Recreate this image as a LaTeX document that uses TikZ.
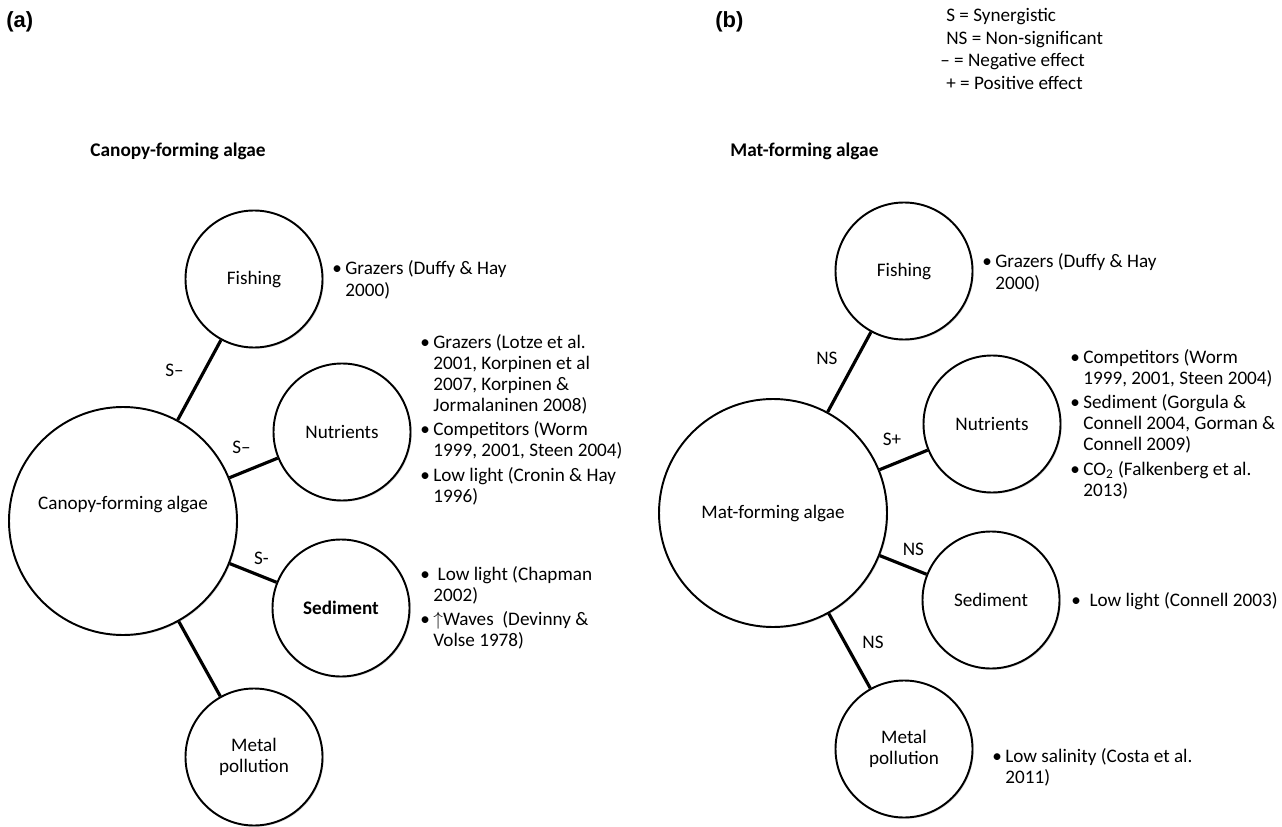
\documentclass[tikz,border=0pt]{standalone}
\usepackage{fontspec}
\setmainfont{Carlito}
\newfontfamily\panelfont{Liberation Sans}
\usetikzlibrary{shadows}
\tikzset{every picture/.style={line join=round}}

\begin{document}
\begin{tikzpicture}[
    x=0.2mm, y=-0.2mm,
    every node/.style={font=\fontsize{10.9}{12}\selectfont},
    stressor/.style={circle, draw, line width=1.1pt, fill=white,
        minimum size=27.4mm, inner sep=0pt, align=center,
        drop shadow={shadow xshift=0.7pt, shadow yshift=-0.7pt, opacity=0.3}},
    algae/.style={stressor, minimum size=45.6mm},
    link/.style={line width=1.8pt},
    effect/.style={inner sep=0pt},
    notes/.style={anchor=base west, inner sep=0pt},
    title/.style={anchor=base west, inner sep=0pt,
        font=\fontsize{11}{13}\selectfont\bfseries},
    panel/.style={anchor=base west, inner sep=0pt,
        font=\fontsize{12.5}{14}\selectfont\panelfont\bfseries}
]
    \useasboundingbox (0,0) rectangle (1282,827);

    \begin{scope}
      % panel (a)
      \node[panel] (pa) at (6,28) {(a)};
      \node[title] (ta) at (90,157) {Canopy-forming algae};

      % circles
      \node[algae, text height=7pt, text depth=19.8pt] (canopy) at (123,521) {Canopy-forming algae};
      \node[stressor] (fishA) at (254,279) {Fishing};
      \node[stressor] (nutA) at (342,432) {Nutrients};
      \node[stressor] (sedA) at (341,608) {\bfseries Sediment};
      \node[stressor] (metA) at (254,757) {Metal\\pollution};

      % interactions
      \draw[link] (canopy) -- (fishA)
          node[effect, pos=.62, left=11pt] {S–};
      \draw[link] (canopy) -- (nutA)
          node[effect, pos=.25, above=10pt] {S–};
      \draw[link] (canopy) -- (sedA)
          node[effect, pos=.68, above=6pt] {S-};
      \draw[link] (canopy) -- (metA);

      % references
      \node[notes] (fishAref) at (332,275) {\begin{tabular}[t]{@{}l@{\hspace{2pt}}l@{}}
          \textbullet & Grazers (Duffy \& Hay\\
           & 2000)
        \end{tabular}};
      \node[notes] (nutAref) at (420,348) {\begin{tabular}[t]{@{}l@{\hspace{2pt}}l@{}}
          \textbullet & Grazers (Lotze et al.\\
           & 2001, Korpinen et al\\
           & 2007, Korpinen \&\\
           & Jormalaninen 2008)\\[2pt]
          \textbullet & Competitors (Worm\\
           & 1999, 2001, Steen 2004)\\[2pt]
          \textbullet & Low light (Cronin \& Hay\\
           & 1996)
        \end{tabular}};
      \node[notes] (sedAref) at (420,580) {\begin{tabular}[t]{@{}l@{\hspace{2pt}}l@{}}
          \textbullet & \ Low light (Chapman\\
           & 2002)\\[2pt]
          \textbullet & $\uparrow$Waves\ \ (Devinny \&\\
           & Volse 1978)
        \end{tabular}};
    \end{scope}

    \begin{scope}
      % panel (b)
      \node[panel] (pb) at (715,28) {(b)};
      \node[title] (tb) at (730,157) {Mat-forming algae};

      % legend
      \foreach \x/\y/\t [count=\i] in {946/22/{S = Synergistic},
          946/44.5/{NS = Non-significant}, 940/67/{– = Negative effect},
          946/89.5/{+ = Positive effect}}
        \node[notes] (leg\i) at (\x,\y) {\t};

      % circles
      \node[algae] (mat) at (773,513) {Mat-forming algae};
      \node[stressor] (fishB) at (904,271) {Fishing};
      \node[stressor] (nutB) at (992,424) {Nutrients};
      \node[stressor] (sedB) at (991,600) {Sediment};
      \node[stressor] (metB) at (904,749) {Metal\\pollution};

      % interactions
      \draw[link] (mat) -- (fishB)
          node[effect, pos=.67, left=10pt] {NS};
      \draw[link] (mat) -- (nutB)
          node[effect, pos=.26, above=10pt] {S+};
      \draw[link] (mat) -- (sedB)
          node[effect, pos=.72, above=7pt] {NS};
      \draw[link] (mat) -- (metB)
          node[effect, pos=.39, right=9pt] {NS};

      % references
      \node[notes] (fishBref) at (982,268) {\begin{tabular}[t]{@{}l@{\hspace{2pt}}l@{}}
          \textbullet & Grazers (Duffy \& Hay\\
           & 2000)
        \end{tabular}};
      \node[notes] (nutBref) at (1070,363) {\begin{tabular}[t]{@{}l@{\hspace{2pt}}l@{}}
          \textbullet & Competitors (Worm\\
           & 1999, 2001, Steen 2004)\\[2pt]
          \textbullet & Sediment (Gorgula \&\\
           & Connell 2004, Gorman \&\\
           & Connell 2009)\\[2pt]
          \textbullet & CO\textsubscript{2} (Falkenberg et al.\\
           & 2013)
        \end{tabular}};
      \node[notes] (sedBref) at (1071,606) {\textbullet\ \ Low light (Connell 2003)};
      \node[notes] (metBref) at (992,762) {\begin{tabular}[t]{@{}l@{\hspace{2pt}}l@{}}
          \textbullet & Low salinity (Costa et al.\\
           & 2011)
        \end{tabular}};
    \end{scope}
\end{tikzpicture}
\end{document}
